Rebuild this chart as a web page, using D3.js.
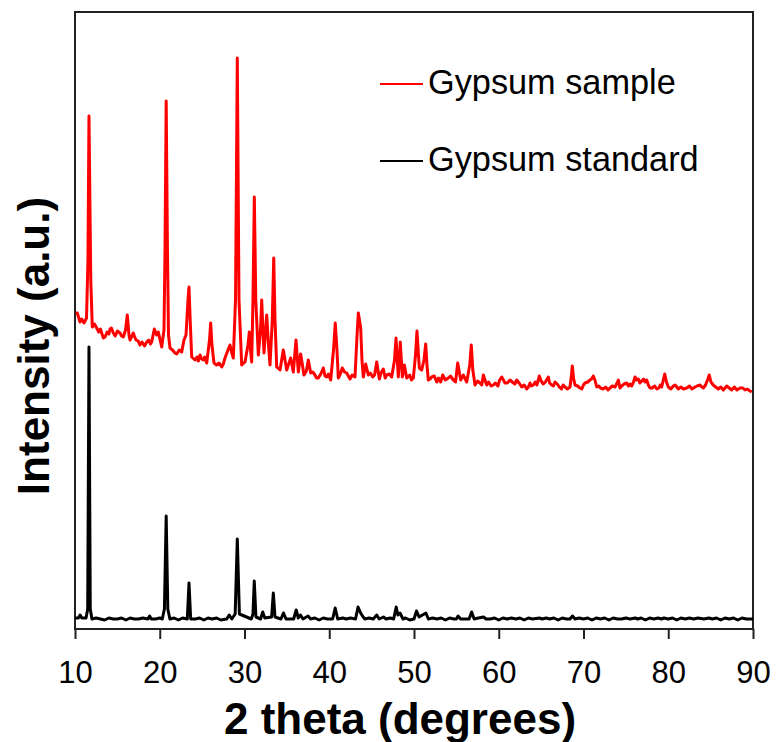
<!DOCTYPE html>
<html>
<head>
<meta charset="utf-8">
<script src="https://cdn.jsdelivr.net/npm/d3@7"></script>
<style>
  body { margin: 0; background: #fff; }
  text { font-family: "Liberation Sans", Arial, sans-serif; }
</style>
</head>
<body>
<svg id="xrd"></svg>
<script>
// chart size and plot frame
const width = 776, height = 742;
const margin = {top: 12, bottom: 113, left: 75, right: 23};

// tick values on the x axis
const xTicks = [10, 20, 30, 40, 50, 60, 70, 80, 90];

// Gypsum sample (red): peaks and main turns
const sampleX = [10.08, 10.27, 10.59, 10.79, 11.06, 11.36, 11.53, 11.65, 11.86, 12.04, 12.56, 13.15, 13.54, 14.13, 14.52, 15.31, 15.70, 15.96, 16.17, 16.37, 16.49, 16.88, 17.20, 17.67, 18.46, 19.05, 19.36, 19.64, 19.83, 20.23, 20.50, 20.62, 20.76, 20.91, 21.03, 21.21, 21.80, 22.59, 22.86, 23.10, 23.33, 23.45, 23.59, 23.77, 24.16, 24.75, 25.14, 25.54, 25.87, 26.01, 26.16, 26.40, 27.31, 27.70, 28.05, 28.29, 28.47, 28.68, 28.94, 29.15, 29.35, 29.67, 30.06, 30.41, 30.57, 30.71, 30.85, 31.00, 31.16, 31.33, 31.63, 31.89, 32.03, 32.18, 32.30, 32.62, 32.83, 33.01, 33.28, 33.45, 33.60, 33.80, 34.19, 34.58, 34.98, 35.45, 35.76, 36.08, 36.35, 36.63, 37.02, 37.53, 37.81, 38.32, 38.71, 39.30, 39.70, 40.17, 40.50, 40.71, 40.91, 41.07, 41.54, 42.06, 42.45, 43.04, 43.25, 43.43, 43.71, 43.86, 44.02, 44.30, 44.61, 45.13, 45.60, 45.91, 46.38, 46.78, 47.37, 47.70, 47.88, 48.06, 48.15, 48.38, 48.62, 48.86, 49.14, 49.92, 50.18, 50.35, 50.53, 50.63, 50.91, 51.18, 51.38, 51.53, 51.69, 52.09, 52.68, 53.39, 54.05, 54.64, 55.16, 55.51, 55.82, 56.22, 56.58, 56.76, 56.94, 57.20, 57.79, 58.18, 58.58, 59.36, 60.35, 60.74, 61.33, 62.12, 62.71, 63.49, 63.69, 64.08, 64.79, 65.26, 65.85, 66.25, 66.64, 67.15, 67.82, 68.41, 68.58, 68.68, 68.82, 69.00, 69.59, 70.18, 70.77, 71.16, 71.56, 72.34, 73.13, 73.72, 74.11, 74.51, 75.10, 75.69, 76.08, 76.47, 76.87, 77.46, 77.85, 78.64, 79.23, 79.58, 79.79, 80.01, 80.60, 81.19, 82.18, 83.16, 83.75, 84.14, 84.63, 84.84, 85.04, 85.31, 85.90, 86.90, 87.49, 88.47, 89.06, 89.65];
const sampleY = [316, 316, 307, 310, 306, 311, 369, 513, 349, 302, 301, 296, 292, 300, 296, 296, 292, 299, 314, 294, 289, 296, 289, 284, 287, 287, 300, 294, 297, 282, 299, 379, 528, 379, 294, 281, 276, 277, 289, 294, 329, 342, 309, 272, 269, 274, 269, 266, 289, 306, 284, 266, 262, 271, 279, 284, 277, 271, 329, 571, 329, 264, 267, 284, 297, 279, 267, 329, 432, 329, 274, 299, 329, 299, 276, 314, 284, 264, 309, 371, 309, 262, 259, 279, 259, 271, 257, 289, 257, 275, 254, 269, 256, 254, 251, 261, 252, 249, 279, 306, 279, 251, 261, 256, 250, 252, 289, 316, 301, 269, 252, 265, 254, 252, 267, 250, 260, 254, 252, 269, 291, 264, 252, 287, 252, 264, 251, 251, 274, 298, 274, 261, 259, 269, 285, 264, 249, 252, 247, 254, 251, 249, 266, 249, 254, 247, 264, 284, 259, 244, 246, 254, 244, 244, 252, 246, 249, 249, 242, 242, 246, 244, 253, 245, 252, 244, 247, 242, 242, 242, 254, 263, 251, 244, 241, 246, 249, 253, 242, 240, 241, 242, 249, 243, 246, 243, 252, 250, 248, 249, 241, 240, 242, 255, 247, 242, 243, 240, 241, 242, 244, 241, 249, 254, 247, 244, 240, 243, 239, 241, 239, 238];

// Gypsum sample: the small wiggles of the background
const sampleNoiseX = [12.3, 12.8, 13.0, 13.35, 13.8, 14.0, 14.3, 14.75, 15.0, 15.5, 17.0, 17.45, 17.9, 18.2, 18.7, 18.9, 21.5, 22.0, 22.3, 24.4, 24.55, 24.95, 25.3, 26.7, 27.0, 27.5, 37.3, 38.05, 38.5, 39.0, 39.5, 39.9, 41.3, 41.8, 42.25, 42.7, 44.85, 45.35, 46.1, 46.6, 47.1, 49.5, 49.7, 51.9, 52.4, 52.9, 53.15, 53.7, 54.3, 54.9, 57.5, 58.0, 58.8, 59.1, 59.6, 59.9, 60.1, 60.55, 61.0, 61.6, 61.9, 62.4, 63.0, 63.3, 63.85, 64.3, 64.5, 65.0, 65.5, 66.0, 66.45, 66.9, 67.4, 67.6, 68.1, 69.3, 69.8, 70.0, 70.5, 70.95, 71.35, 71.8, 72.0, 72.6, 72.9, 73.4, 73.9, 74.3, 74.8, 75.3, 75.5, 75.9, 76.25, 76.65, 77.1, 77.25, 77.65, 78.1, 78.4, 78.9, 79.05, 80.3, 80.8, 81.0, 81.5, 81.8, 82.5, 82.8, 83.4, 83.95, 84.4, 85.6, 86.2, 86.5, 87.2, 87.8, 88.1, 88.8, 89.3, 89.85];
const sampleNoiseY = [305, 297, 300, 291, 297, 295, 301, 293, 298, 293, 293, 288, 287, 283, 289, 285, 279, 275, 279, 272, 268, 270, 272, 264, 266, 265, 258, 257, 251, 255, 253, 255, 255, 257, 253, 254, 256, 254, 256, 251, 255, 254, 249, 250, 253, 251, 247, 249, 253, 247, 248, 244, 247, 243, 246, 243, 249, 249, 246, 247, 245, 246, 244, 240, 243, 247, 244, 248, 247, 246, 243, 245, 240, 244, 240, 243, 240, 244, 247, 250, 249, 243, 241, 242, 239, 243, 245, 241, 245, 243, 245, 247, 249, 246, 250, 247, 244, 241, 243, 241, 244, 240, 244, 242, 242, 240, 243, 240, 243, 242, 244, 242, 242, 239, 241, 242, 239, 241, 240, 237];

// Gypsum standard (black)
const standardX = [10.0, 10.4, 10.6, 10.8, 11.3, 11.5, 11.65, 11.8, 12.0, 13.0, 15.0, 17.0, 18.6, 18.8, 19.0, 20.3, 20.55, 20.76, 20.95, 21.2, 23.25, 23.45, 23.65, 27.9, 28.2, 28.5, 28.9, 29.15, 29.4, 30.8, 31.0, 31.15, 31.35, 31.9, 32.15, 32.4, 33.2, 33.4, 33.6, 34.3, 34.6, 34.9, 35.8, 36.1, 36.35, 36.6, 36.9, 37.5, 37.8, 40.4, 40.7, 41.0, 41.6, 43.1, 43.4, 43.7, 44.0, 44.2, 45.6, 45.9, 46.4, 46.7, 47.6, 47.9, 48.1, 48.35, 48.7, 50.0, 50.3, 50.6, 51.4, 51.7, 55.0, 55.2, 55.5, 56.5, 56.8, 57.1, 58.2, 58.5, 62.0, 64.8, 65.1, 68.4, 68.7, 69.0, 74.0, 76.1, 76.4, 79.5, 80.0, 84.8, 85.2, 90.0];
const standardY = [11, 11, 14, 11, 11, 20, 282, 20, 10, 10, 10, 10, 10, 13, 10, 10, 20, 113, 20, 10, 10, 46, 10, 10, 14, 10, 15, 90, 15, 10, 15, 48, 12, 10, 17, 11, 12, 36, 12, 10, 16, 10, 10, 19, 11, 14, 10, 13, 10, 10, 21, 10, 11, 10, 22, 16, 12, 10, 14, 10, 12, 10, 10, 22, 14, 16, 10, 10, 18, 12, 16, 10, 10, 13, 10, 10, 17, 10, 12, 10, 10, 11, 10, 10, 13, 10, 10, 11, 10, 11, 10, 11, 10, 10];

// Gypsum standard: background wiggles
const standardNoiseX = [12.5, 13.5, 14, 14.5, 15.5, 16, 16.5, 17.5, 18, 19.5, 20, 21.7, 22.2, 22.7, 24.2, 24.7, 25.2, 25.7, 26.2, 26.7, 27.2, 38.3, 38.8, 39.3, 39.8, 42.0, 42.5, 44.7, 45.2, 47.2, 49.0, 49.5, 52.2, 52.7, 53.2, 53.7, 54.2, 54.7, 57.6, 59, 59.5, 60, 60.5, 61, 61.5, 62.5, 63, 63.5, 64, 65.6, 66, 66.5, 67, 67.5, 68, 69.5, 70, 70.5, 71, 71.5, 72, 72.5, 73, 73.5, 74.5, 75, 75.5, 76.8, 77.3, 77.8, 78.3, 78.8, 79.2, 80.5, 81, 81.5, 82, 82.5, 83, 83.5, 84.2, 85.7, 86.2, 86.7, 87.2, 87.7, 88.2, 88.7, 89.2];
const standardNoiseY = [11, 9, 11, 10, 11, 9, 11, 10, 11, 10, 11, 11, 9, 11, 10, 11, 9, 11, 10, 11, 9, 11, 9, 11, 10, 10, 11, 11, 10, 11, 11, 9, 11, 10, 11, 9, 11, 10, 11, 10, 11, 9, 11, 10, 11, 11, 9, 11, 10, 11, 10, 11, 9, 11, 10, 11, 10, 11, 9, 11, 10, 11, 9, 11, 10, 11, 10, 11, 9, 11, 10, 11, 10, 11, 9, 11, 10, 11, 10, 11, 10, 11, 9, 11, 10, 11, 9, 11, 10];

const svg = d3.select("#xrd")
    .attr("width", width)
    .attr("height", height)
    .style("background", "#ffffff");

const xScale = d3.scaleLinear()
    .domain([10, 90])
    .range([margin.left, width - margin.right]);

const yScale = d3.scaleLinear()
    .domain([0, 617])
    .range([height - margin.bottom, margin.top]);

// x axis with outward ticks
let xAxis = svg.append("g")
    .attr("transform", `translate(0,${height - margin.bottom})`)
    .call(d3.axisBottom(xScale).tickValues(xTicks).tickSize(10).tickFormat(d3.format("d")));
xAxis.select(".domain").remove();
xAxis.selectAll(".tick line").attr("stroke", "#222").attr("stroke-width", 2);
xAxis.selectAll(".tick text")
    .attr("dy", null)
    .attr("y", 54)
    .style("font-size", "31px")
    .style("font-family", "'Liberation Sans', Arial, sans-serif")
    .attr("fill", "#000");

// the frame around the plot
svg.append("rect")
    .attr("x", margin.left)
    .attr("y", margin.top)
    .attr("width", width - margin.left - margin.right)
    .attr("height", height - margin.top - margin.bottom)
    .attr("fill", "none")
    .attr("stroke", "#222")
    .attr("stroke-width", 2);

// merge main points and wiggles, sorted by angle
const sampleData = d3.sort(
    sampleX.map((x, i) => ({x: x, y: sampleY[i]}))
        .concat(sampleNoiseX.map((x, i) => ({x: x, y: sampleNoiseY[i]}))),
    d => d.x);
const standardData = d3.sort(
    standardX.map((x, i) => ({x: x, y: standardY[i]}))
        .concat(standardNoiseX.map((x, i) => ({x: x, y: standardNoiseY[i]}))),
    d => d.x);

let line = d3.line()
    .x(d => xScale(d.x))
    .y(d => yScale(d.y));

svg.append("path")
    .datum(standardData)
    .attr("fill", "none")
    .attr("stroke", "#000000")
    .attr("stroke-width", 3)
    .attr("stroke-linejoin", "round")
    .attr("d", line);

svg.append("path")
    .datum(sampleData)
    .attr("fill", "none")
    .attr("stroke", "#ff0000")
    .attr("stroke-width", 3)
    .attr("stroke-linejoin", "round")
    .attr("d", line);

// axis titles
svg.append("text")
    .attr("x", (margin.left + width - margin.right) / 2 - 14)
    .attr("y", 734)
    .attr("text-anchor", "middle")
    .style("font-size", "44px")
    .style("font-weight", "bold")
    .text("2 theta (degrees)");

svg.append("text")
    .attr("transform", "translate(49,346) rotate(-90)")
    .attr("text-anchor", "middle")
    .style("font-size", "44px")
    .style("font-weight", "bold")
    .text("Intensity (a.u.)");

// legend
const legend = svg.append("g");
const legendItems = [{name: "Gypsum sample", color: "#ff0000", y: 84}, {name: "Gypsum standard", color: "#000000", y: 161}];
legendItems.forEach(item => {
    legend.append("line")
        .attr("x1", 380).attr("x2", 423)
        .attr("y1", item.y).attr("y2", item.y)
        .attr("stroke", item.color)
        .attr("stroke-width", 2);
    legend.append("text")
        .attr("x", 428)
        .attr("y", item.y + 10)
        .style("font-size", "34.3px")
        .text(item.name);
});
</script>
</body>
</html>
